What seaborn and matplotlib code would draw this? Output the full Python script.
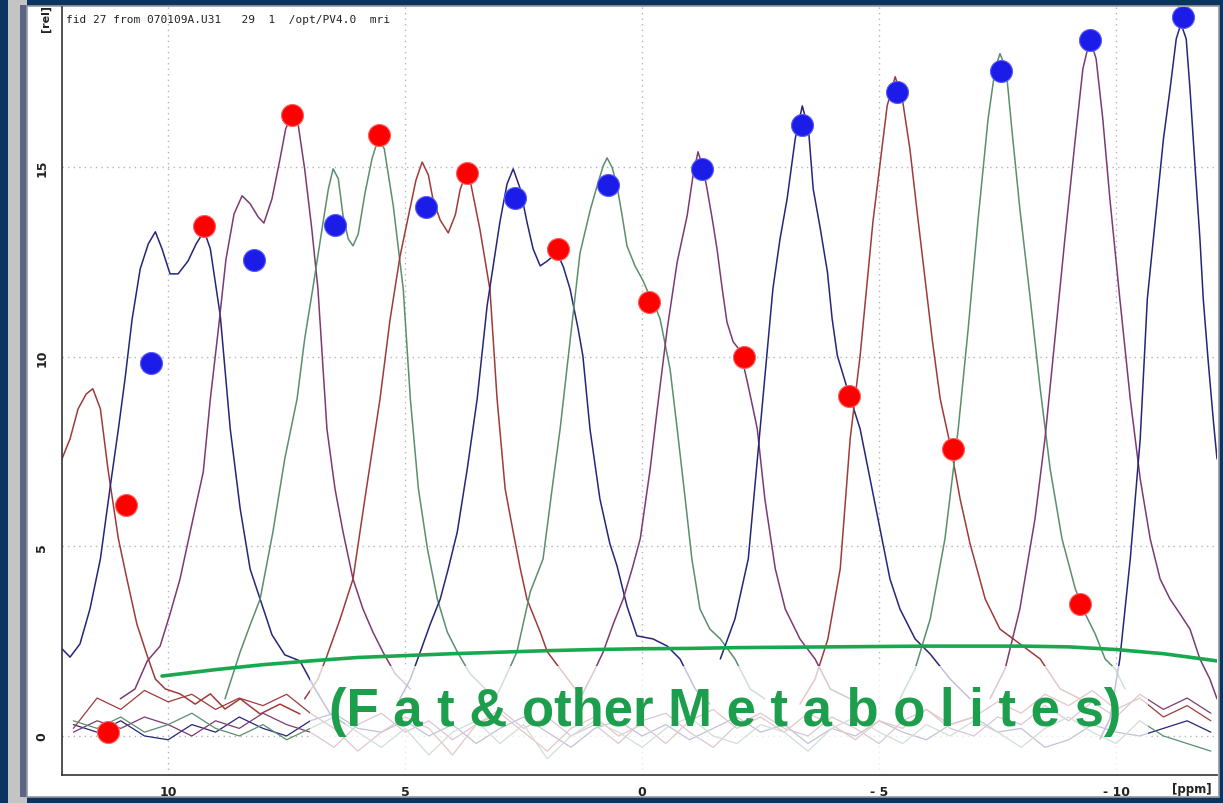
import matplotlib
matplotlib.use("Agg")
import matplotlib.pyplot as plt
from matplotlib.patches import Rectangle
from matplotlib.ticker import MultipleLocator
import seaborn as sns

# ---- spectra (ppm, rel) ----
brown1_ppm = [12.24, 12.07, 11.90, 11.73, 11.59, 11.43, 11.27, 11.05, 10.87, 10.66, 10.44, 10.27, 10.06, 9.75, 9.43, 9.11, 8.80, 8.48, 8.06, 7.64, 7.22]
brown1_rel = [7.31, 7.84, 8.63, 9.02, 9.16, 8.63, 7.04, 5.20, 4.14, 2.95, 2.11, 1.50, 1.24, 1.11, 0.84, 1.11, 0.71, 0.98, 0.58, 0.84, 0.58]

navy1_ppm = [12.24, 12.07, 11.86, 11.65, 11.43, 11.22, 11.05, 10.91, 10.76, 10.59, 10.42, 10.27, 10.13, 9.96, 9.79, 9.58, 9.41, 9.24, 9.11, 8.90, 8.69, 8.48, 8.27, 8.02, 7.81, 7.54, 7.22, 6.90, 6.58, 6.27]
navy1_rel = [2.30, 2.08, 2.43, 3.35, 4.67, 6.60, 8.10, 9.42, 11.00, 12.32, 12.98, 13.30, 12.85, 12.19, 12.19, 12.53, 12.98, 13.32, 12.85, 11.08, 8.10, 5.99, 4.40, 3.46, 2.67, 2.14, 1.98, 1.24, 0.58, 0.32]

purple1_ppm = [11.01, 10.70, 10.44, 10.17, 9.96, 9.75, 9.60, 9.43, 9.26, 9.11, 8.94, 8.78, 8.61, 8.44, 8.27, 8.10, 7.98, 7.81, 7.64, 7.52, 7.39, 7.26, 7.12, 6.97, 6.84, 6.65, 6.48, 6.31, 6.10, 5.89, 5.68, 5.47, 5.21, 4.89]
purple1_rel = [0.98, 1.24, 1.98, 2.37, 3.22, 4.14, 5.01, 5.99, 6.96, 8.89, 10.74, 12.58, 13.77, 14.25, 14.04, 13.69, 13.53, 14.17, 15.22, 16.02, 16.36, 16.15, 14.96, 13.38, 11.80, 8.10, 6.52, 5.38, 4.14, 3.35, 2.74, 2.22, 1.64, 1.24]

green1_ppm = [8.80, 8.48, 8.27, 8.06, 7.79, 7.54, 7.28, 7.12, 6.95, 6.73, 6.62, 6.52, 6.41, 6.31, 6.20, 6.10, 5.99, 5.85, 5.70, 5.57, 5.44, 5.25, 5.04, 4.89, 4.72, 4.53, 4.32, 4.11, 3.90, 3.63, 3.31]
green1_rel = [0.98, 2.22, 2.93, 3.61, 5.38, 7.31, 8.89, 10.47, 11.79, 13.56, 14.43, 14.96, 14.70, 13.72, 13.11, 12.93, 13.24, 14.30, 15.22, 15.75, 15.49, 13.98, 11.79, 8.89, 6.52, 4.94, 3.61, 2.74, 2.22, 1.64, 1.24]

brown2_ppm = [7.12, 6.84, 6.65, 6.37, 6.10, 5.85, 5.53, 5.32, 5.11, 4.89, 4.77, 4.64, 4.51, 4.41, 4.26, 4.09, 3.94, 3.84, 3.73, 3.61, 3.42, 3.21, 3.06, 2.89, 2.72, 2.57, 2.43, 2.15, 2.00, 1.73, 1.41]
brown2_rel = [0.98, 1.50, 2.11, 3.09, 4.14, 6.25, 8.89, 10.97, 12.64, 13.96, 14.67, 15.14, 14.80, 14.14, 13.61, 13.27, 13.75, 14.41, 14.80, 14.54, 13.35, 11.77, 8.89, 6.52, 5.38, 4.41, 3.61, 2.74, 2.22, 1.77, 1.24]

navy2_ppm = [5.11, 4.89, 4.68, 4.47, 4.26, 4.09, 3.90, 3.69, 3.48, 3.27, 3.12, 3.00, 2.85, 2.72, 2.57, 2.43, 2.30, 2.15, 2.00, 1.88, 1.79, 1.66, 1.52, 1.35, 1.25, 1.10, 0.89, 0.68, 0.53, 0.32, 0.11, -0.23, -0.53, -0.80, -1.12, -1.43]
navy2_rel = [0.98, 1.50, 2.22, 2.95, 3.61, 4.41, 5.38, 7.04, 8.89, 11.35, 12.58, 13.56, 14.56, 14.96, 14.43, 13.56, 12.85, 12.40, 12.53, 12.66, 12.74, 12.37, 11.79, 10.74, 10.03, 8.10, 6.25, 5.07, 4.49, 3.43, 2.64, 2.56, 2.37, 2.03, 1.24, 0.84]

green2_ppm = [3.10, 2.85, 2.64, 2.36, 2.09, 1.88, 1.73, 1.58, 1.31, 1.10, 0.95, 0.82, 0.74, 0.63, 0.53, 0.42, 0.32, 0.15, -0.02, -0.13, -0.27, -0.38, -0.59, -0.74, -0.91, -1.05, -1.22, -1.43, -1.65, -1.96, -2.28, -2.59]
green2_rel = [0.98, 1.64, 2.22, 3.80, 4.67, 6.70, 8.10, 9.76, 12.74, 13.85, 14.51, 15.04, 15.25, 14.99, 14.51, 13.72, 12.93, 12.40, 12.01, 11.69, 11.35, 11.00, 9.68, 8.10, 6.25, 4.67, 3.35, 2.82, 2.56, 2.03, 1.24, 0.98]

purple2_ppm = [1.31, 0.99, 0.82, 0.61, 0.40, 0.21, 0.04, -0.17, -0.32, -0.53, -0.74, -0.95, -1.08, -1.18, -1.29, -1.37, -1.48, -1.58, -1.69, -1.79, -1.92, -2.07, -2.22, -2.32, -2.43, -2.59, -2.81, -3.02, -3.33, -3.65, -3.97, -4.39]
purple2_rel = [0.98, 1.77, 2.22, 2.95, 3.61, 4.41, 5.20, 7.04, 8.63, 10.74, 12.50, 13.72, 14.83, 15.41, 14.96, 14.43, 13.64, 12.85, 11.80, 10.92, 10.40, 10.16, 9.34, 8.76, 8.10, 6.25, 4.41, 3.35, 2.56, 2.03, 1.24, 0.98]

navy3_ppm = [-1.65, -1.96, -2.24, -2.49, -2.76, -2.91, -3.06, -3.23, -3.38, -3.51, -3.61, -3.76, -3.91, -4.01, -4.12, -4.33, -4.60, -4.81, -5.02, -5.23, -5.44, -5.76, -6.08, -6.50, -6.92]
navy3_rel = [2.03, 3.09, 4.67, 8.10, 11.80, 13.11, 14.17, 15.75, 16.62, 16.02, 14.43, 13.38, 12.24, 11.00, 10.03, 9.16, 8.10, 6.78, 5.46, 4.14, 3.35, 2.56, 2.16, 1.50, 0.98]

brown3_ppm = [-3.33, -3.65, -3.92, -4.18, -4.39, -4.60, -4.87, -5.02, -5.17, -5.34, -5.49, -5.65, -5.82, -5.97, -6.12, -6.29, -6.52, -6.71, -6.92, -7.24, -7.55, -7.97, -8.40, -8.82, -9.24]
brown3_rel = [0.84, 1.50, 2.56, 4.41, 7.84, 10.03, 13.56, 15.09, 16.62, 17.39, 16.81, 15.49, 13.64, 12.06, 10.47, 8.89, 7.57, 6.25, 5.07, 3.61, 2.82, 2.43, 2.03, 1.24, 0.98]

green3_ppm = [-5.44, -5.76, -6.08, -6.39, -6.67, -6.88, -7.09, -7.30, -7.45, -7.55, -7.68, -7.80, -7.97, -8.19, -8.40, -8.61, -8.86, -9.14, -9.35, -9.56, -9.77, -9.98, -10.19]
green3_rel = [0.98, 1.77, 3.09, 5.20, 8.10, 10.74, 13.64, 16.28, 17.60, 18.00, 17.60, 16.02, 13.91, 11.53, 9.16, 7.04, 5.20, 3.88, 3.22, 2.69, 2.03, 1.77, 1.24]

purple3_ppm = [-7.34, -7.66, -7.97, -8.29, -8.50, -8.71, -8.92, -9.14, -9.30, -9.45, -9.58, -9.72, -9.87, -10.08, -10.30, -10.51, -10.72, -10.93, -11.14, -11.35, -11.56, -11.77, -11.98, -12.13]
purple3_rel = [0.98, 1.77, 3.35, 5.73, 7.84, 10.47, 13.11, 15.75, 17.60, 18.39, 17.86, 16.28, 14.17, 11.53, 8.89, 6.78, 5.20, 4.14, 3.61, 3.22, 2.82, 2.03, 1.50, 0.98]

navy4_ppm = [-9.66, -9.87, -10.08, -10.30, -10.51, -10.66, -10.83, -11.00, -11.14, -11.27, -11.37, -11.48, -11.56, -11.67, -11.77, -11.84, -11.94, -12.05, -12.13]
navy4_rel = [-0.08, 0.45, 2.03, 4.67, 7.84, 11.53, 13.64, 15.75, 17.07, 18.39, 18.79, 18.39, 17.07, 14.96, 13.11, 11.53, 9.95, 8.36, 7.31]

# baseline noise traces
base_ppm = [12.0, 11.5, 11.0, 10.5, 10.0, 9.5, 9.0, 8.5, 8.0, 7.5, 7.0, 6.5, 6.0, 5.5, 5.0, 4.5, 4.0, 3.5, 3.0, 2.5,
            2.0, 1.5, 1.0, 0.5, 0.0, -0.5, -1.0, -1.5, -2.0, -2.5, -3.0, -3.5, -4.0, -4.5, -5.0, -5.5, -6.0, -6.5,
            -7.0, -7.5, -8.0, -8.5, -9.0, -9.5, -10.0, -10.5, -11.0, -11.5, -12.0]
base_navy = [0.3, 0.1, 0.4, 0.0, -0.1, 0.3, 0.1, 0.5, 0.2, 0.0, 0.4, 0.6, 0.2, 0.1, 0.4, 0.0, 0.3, -0.2, 0.2, 0.5,
             0.1, -0.3, 0.2, 0.4, 0.0, 0.3, -0.1, 0.2, 0.5, 0.1, 0.3, -0.2, 0.2, 0.0, 0.4, 0.1, -0.1, 0.3, 0.5, 0.1,
             0.2, -0.3, -0.1, 0.3, 0.1, 0.0, 0.2, 0.4, 0.1]
base_purple = [0.1, 0.4, 0.2, 0.5, 0.3, 0.0, 0.4, 0.2, 0.6, 0.3, 0.1, -0.3, 0.3, 0.6, 0.1, 0.4, -0.1, 0.3, 0.7, 0.2,
               0.5, 0.0, 0.3, -0.2, 0.4, 0.6, 0.1, -0.3, 0.3, 0.6, 0.2, 0.0, 0.5, 0.2, -0.2, 0.4, 0.7, 0.2, 0.0, 0.5,
               0.3, 0.8, 0.4, 0.9, 0.5, 1.1, 0.7, 1.0, 0.6]
base_brown = [0.2, 1.0, 0.7, 1.2, 0.9, 1.1, 0.7, 1.0, 0.8, 1.1, 0.6, 0.2, -0.4, 0.1, 0.5, 0.2, -0.5, 0.3, 0.6, 0.1,
              -0.4, 0.2, 0.5, 0.0, 0.3, -0.2, 0.4, 0.7, 0.2, 0.5, 0.1, 0.6, 0.3, -0.1, 0.4, 0.2, 0.7, 0.3, 0.5, 0.9,
              0.6, 1.1, 0.8, 1.2, 0.7, 1.0, 0.5, 0.8, 0.4]
base_green = [0.4, 0.2, 0.5, 0.1, 0.3, 0.6, 0.2, 0.0, 0.3, -0.1, 0.2, 0.5, 0.1, -0.3, 0.2, -0.5, 0.1, 0.4, -0.2, 0.3,
              -0.6, 0.0, 0.4, 0.1, -0.3, 0.2, 0.5, 0.0, -0.2, 0.3, 0.1, -0.4, 0.2, 0.5, 0.1, -0.2, 0.3, 0.0, 0.4, 0.1,
              -0.3, 0.2, 0.5, 0.1, -0.2, 0.4, 0.0, -0.2, -0.4]

# marker points
red_ppm = [11.27, 10.89, 9.24, 7.38, 5.56, 3.70, 1.78, -0.15, -2.14, -4.36, -6.55, -9.24]
red_rel = [0.11, 6.10, 13.45, 16.38, 15.85, 14.85, 12.84, 11.44, 10.01, 8.96, 7.58, 3.49]
blue_ppm = [10.36, 8.18, 6.49, 4.55, 2.68, 0.72, -1.27, -3.38, -5.37, -7.57, -9.45, -11.42]
blue_rel = [9.83, 12.55, 13.47, 13.95, 14.19, 14.53, 14.95, 16.12, 16.99, 17.54, 18.36, 18.97]

# fat / metabolite baseline
fat_ppm = [10.13, 9.0, 8.0, 7.0, 6.0, 5.0, 4.0, 3.0, 2.0, 1.0, 0.0, -1.0, -2.0, -3.0, -4.0, -5.0, -6.0, -7.0, -8.0, -9.0, -10.0, -11.0, -12.13]
fat_rel = [1.58, 1.75, 1.88, 1.98, 2.07, 2.12, 2.17, 2.21, 2.25, 2.28, 2.30, 2.31, 2.33, 2.34, 2.35, 2.36, 2.37, 2.37, 2.37, 2.35, 2.28, 2.17, 1.98]

x_ticks = [10, 5, 0, -5, -10]
x_labels = ["10", "5", "0", "- 5", "- 10"]
y_ticks = [0, 5, 10, 15]

NAVY, PURPLE, BROWN, GREEN = "#25257a", "#7c3a70", "#a03a3a", "#5a8f6c"

spectra = [
    (brown1_ppm, brown1_rel, BROWN), (navy1_ppm, navy1_rel, NAVY), (purple1_ppm, purple1_rel, PURPLE),
    (green1_ppm, green1_rel, GREEN), (brown2_ppm, brown2_rel, BROWN), (navy2_ppm, navy2_rel, NAVY),
    (green2_ppm, green2_rel, GREEN), (purple2_ppm, purple2_rel, PURPLE), (navy3_ppm, navy3_rel, NAVY),
    (brown3_ppm, brown3_rel, BROWN), (green3_ppm, green3_rel, GREEN), (purple3_ppm, purple3_rel, PURPLE),
    (navy4_ppm, navy4_rel, NAVY),
]
baselines = [(base_navy, NAVY), (base_purple, PURPLE), (base_brown, BROWN), (base_green, GREEN)]

sns.set_style("white")
W, H = 1223, 804
fig = plt.figure(figsize=(W / 100, H / 100), dpi=100, facecolor="#0b3561")

# window frame (drawn beneath the axes)
fig.patches.append(Rectangle((8 / W, 0), 19 / W, 1, transform=fig.transFigure, facecolor="#c4c4c4", edgecolor="none", zorder=-3))
fig.patches.append(Rectangle((20 / W, 6 / H), 7 / W, 1 - 12 / H, transform=fig.transFigure, facecolor="#5c6488", edgecolor="none", zorder=-2))
fig.patches.append(Rectangle((27 / W, 6 / H), 1192 / W, 1 - 13 / H, transform=fig.transFigure, facecolor="white", edgecolor="#9a9a9a", lw=1.2, zorder=-1))

ax = fig.add_axes([62 / W, 28 / H, (1217 - 62) / W, (776 - 8) / H])
ax.set_facecolor("white")

for vals, col in baselines:
    sns.lineplot(x=base_ppm, y=vals, sort=False, estimator=None, color=col, lw=0.9, ax=ax)
for xs, ys, col in spectra:
    sns.lineplot(x=xs, y=ys, sort=False, estimator=None, color=col, lw=1.1, ax=ax)

sns.lineplot(x=fat_ppm, y=fat_rel, sort=False, estimator=None, color="#18a94f", lw=2.6, ax=ax, zorder=4)

# faded label panel (kept just above the x axis line)
ax.add_patch(Rectangle((0.215, 0.004), 0.725, 0.138, transform=ax.transAxes, facecolor="white", alpha=0.72, edgecolor="none", zorder=5))
ax.text(0.574, 0.083, "(F a t & other M e t a b o l i t e s)", transform=ax.transAxes, ha="center", va="center",
        family="Liberation Sans", weight="bold", size=38, color="#1c9e4c", zorder=6)

sns.scatterplot(x=red_ppm, y=red_rel, color="#ff0000", s=250, edgecolor="#ff6060", linewidth=0.8, ax=ax, zorder=7)
sns.scatterplot(x=blue_ppm, y=blue_rel, color="#1c1ce8", s=250, edgecolor="#5a5aff", linewidth=0.8, ax=ax, zorder=7)

ax.set_xlim(12.24, -12.13)
ax.set_ylim(-1.03, 19.23)
ax.set_xticks(x_ticks, labels=x_labels)
ax.set_yticks(y_ticks)
ax.xaxis.set_minor_locator(MultipleLocator(1))
ax.yaxis.set_minor_locator(MultipleLocator(1))
ax.tick_params(which="both", direction="out", length=4, width=1, color="#333333")
ax.tick_params(axis="x", labelsize=9, pad=3, labelcolor="#222222")
ax.tick_params(axis="y", labelsize=9, pad=6, labelrotation=90, labelcolor="#222222")
for lab in ax.get_xticklabels() + ax.get_yticklabels():
    lab.set_fontweight("bold")
for lab in ax.get_yticklabels():
    lab.set_va("center")
ax.grid(True, which="major", ls=(0, (1, 3)), color="#b5b5b5", lw=1)
ax.set_xlabel("")
ax.set_ylabel("")
for s in ["top", "right"]:
    ax.spines[s].set_visible(False)
for s in ["left", "bottom"]:
    ax.spines[s].set_color("#333333")
    ax.spines[s].set_linewidth(1.2)
    ax.spines[s].set_zorder(8)

fig.text(66 / W, 1 - 20 / H, "fid 27 from 070109A.U31   29  1  /opt/PV4.0  mri", family="DejaVu Sans Mono",
         size=8, va="center", color="#222222")
fig.text(46 / W, 1 - 18 / H, "[rel]", rotation=90, weight="bold", size=8, ha="center", va="center", color="#222222")
fig.text(1192 / W, 1 - 790 / H, "[ppm]", weight="bold", size=8.5, ha="center", va="center", color="#222222")

fig.savefig("out.png", dpi=100, facecolor=fig.get_facecolor())
